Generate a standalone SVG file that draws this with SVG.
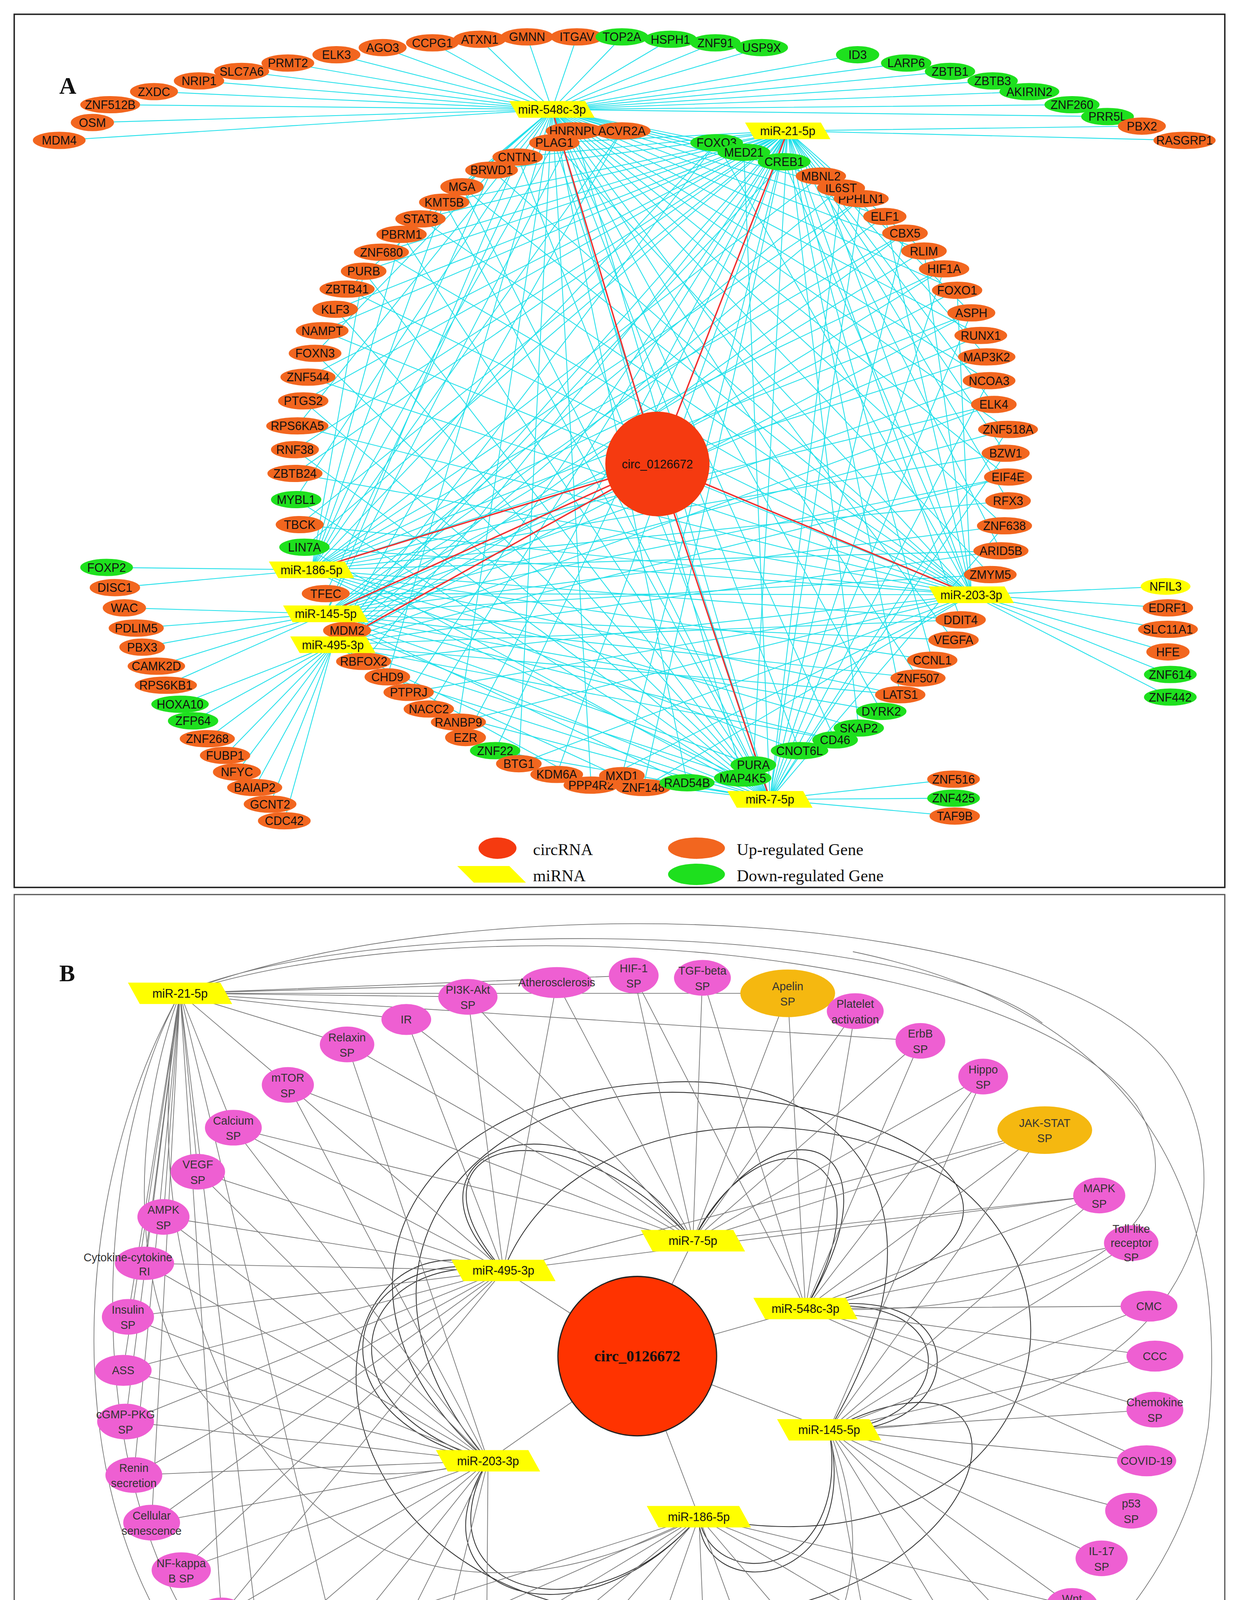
<svg xmlns="http://www.w3.org/2000/svg" xmlns:xlink="http://www.w3.org/1999/xlink" width="3173" height="4775" viewBox="0 0 3173 4775">
<style>
.u{fill:#F2661F;stroke:#F2661F;stroke-width:0.5}
.d{fill:#1EE01E;stroke:#1EE01E;stroke-width:0.5}
.y{fill:#FFFF00}
.p{fill:#EE5FD2}
.o{fill:#F5B810}
text{font-family:"Liberation Sans",Arial,sans-serif;font-size:10px;text-anchor:middle;dominant-baseline:central;fill:#111}
.t{font-size:9.5px;fill:#333}
.s{font-family:"Liberation Serif","Times New Roman",serif;font-size:14px;text-anchor:start}
.cy{fill:none;stroke:#22E0EA;stroke-width:0.7}
.rd{fill:none;stroke:#F03030;stroke-width:1.2}
.gr{fill:none;stroke:#777;stroke-width:0.6}
.bk{fill:none;stroke:#333;stroke-width:0.7}
</style>
<defs>
<polygon id="ma" points="-36,-7 28,-7 36,7 -28,7" fill="#FFFF00"/>
<polygon id="mb" points="-44,-9 34,-9 44,9 -34,9" fill="#FFFF00"/>
</defs>
<rect width="3173" height="4775" fill="#fff"/>
<g transform="scale(3.0335,3.0453)">
<rect x="12" y="12" width="1022" height="734" fill="none" stroke="#222" stroke-width="1.2"/>
<rect x="12" y="752" width="1022" height="804" fill="none" stroke="#555" stroke-width="1"/>
<text x="50" y="72" style="font-family:'Liberation Serif',serif;font-weight:bold;font-size:20px;text-anchor:start">A</text>
<text x="50" y="818" style="font-family:'Liberation Serif',serif;font-weight:bold;font-size:20px;text-anchor:start">B</text>

<g id="connectors-A">
<path class="cy" d="M466 92L50 118M466 92L78 103M466 92L93 88M466 92L130 77M466 92L168 68M466 92L204 60M466 92L243 53M466 92L284 46M466 92L323 40M466 92L365 36M466 92L405 33M466 92L445 31M466 92L487 31M466 92L525 31M466 92L566 33M466 92L604 36M466 92L643 40M466 92L724 46M466 92L765 53M466 92L802 60M466 92L838 68M466 92L869 77M466 92L905 88M466 92L935 98M466 92L485 110M466 92L525 110M466 92L605 120"/>
<path class="cy" d="M466 92L580 658M466 92L627 654M466 92L675 631M466 92L705 622M466 92L744 598M466 92L775 570M466 92L805 538M466 92L836 483M466 92L848 442M466 92L851 401M466 92L851 361M466 92L835 320M466 92L828 282M466 92L808 244M466 92L780 211M466 92L747 182M466 92L710 158M466 92L693 148M466 92L662 136M466 92L628 128M466 92L390 157M466 92L339 197M466 92L293 243M466 92L266 297M466 92L251 358M466 92L249 420M466 92L275 499M466 92L327 569M466 92L387 607M466 92L438 642M466 92L499 660"/>
<path class="cy" d="M665 110L964 106M665 110L1000 118M665 110L628 128M665 110L662 136M665 110L468 120M665 110L437 132M665 110L415 143M665 110L375 170M665 110L355 184M665 110L322 212M665 110L307 228M665 110L283 260M665 110L272 278M665 110L260 317M665 110L256 337M665 110L249 378M665 110L249 398M665 110L253 441M665 110L257 460M665 110L293 530M665 110L307 556M665 110L345 582M665 110L362 596M665 110L393 620M665 110L418 631M665 110L470 651M665 110L525 652M665 110L543 662M665 110L636 643M665 110L725 612M665 110L760 584M665 110L787 555M665 110L811 521M665 110L845 463M665 110L851 421M665 110L849 381M665 110L839 340M665 110L833 300M665 110L820 263M665 110L797 226"/>
<path class="cy" d="M263 479L90 477M263 479L97 494M263 479L693 148M263 479L727 167M263 479L764 196M263 479L797 226M263 479L820 263M263 479L833 300M263 479L839 340M263 479L849 381M263 479L851 421M263 479L845 463M263 479L811 521M263 479L787 555M263 479L760 584M263 479L725 612M263 479L675 631M263 479L627 654M263 479L605 120M263 479L525 110M263 479L468 120M263 479L415 143M263 479L375 170M263 479L339 197M263 479L307 228"/>
<path class="cy" d="M275 516L105 511M275 516L115 528M275 516L120 544M275 516L132 560M275 516L140 576M275 516L710 158M275 516L747 182M275 516L780 211M275 516L808 244M275 516L828 282M275 516L835 320M275 516L851 361M275 516L851 401M275 516L848 442M275 516L836 483M275 516L805 538M275 516L775 570M275 516L744 598M275 516L705 622M275 516L636 643M275 516L580 658M275 516L485 110M275 516L437 132"/>
<path class="cy" d="M281 542L152 592M281 542L163 606M281 542L175 621M281 542L190 635M281 542L200 649M281 542L215 662M281 542L228 676M281 542L240 690M281 542L662 136M281 542L727 167M281 542L764 196M281 542L797 226M281 542L820 263M281 542L839 340M281 542L851 401M281 542L845 463M281 542L811 521M281 542L760 584M281 542L705 622M281 542L627 654M281 542L543 662M281 542L499 660M281 542L605 120M281 542L525 110"/>
<path class="cy" d="M820 500L984 493M820 500L986 511M820 500L986 529M820 500L986 548M820 500L988 567M820 500L988 586M820 500L468 120M820 500L415 143M820 500L390 157M820 500L355 184M820 500L322 212M820 500L293 243M820 500L272 278M820 500L260 317M820 500L251 358M820 500L249 398M820 500L253 441M820 500L257 460M820 500L275 499M820 500L307 556M820 500L345 582M820 500L387 607M820 500L438 642M820 500L499 660M820 500L543 662M820 500L693 148M820 500L747 182M820 500L780 211M820 500L808 244M820 500L605 120M820 500L662 136"/>
<path class="cy" d="M650 672L805 655M650 672L805 671M650 672L806 686M650 672L468 120M650 672L437 132M650 672L390 157M650 672L375 170M650 672L339 197M650 672L307 228M650 672L283 260M650 672L266 297M650 672L256 337M650 672L249 378M650 672L250 420M650 672L257 460M650 672L293 530M650 672L327 569M650 672L362 596M650 672L418 631M650 672L470 651M650 672L525 652M650 672L710 158M650 672L727 167M650 672L764 196M650 672L797 226M650 672L820 263M650 672L835 320M650 672L851 361M650 672L849 381M650 672L848 442M650 672L485 110M650 672L628 128"/>
<path class="rd" d="M555 390L466 92M555 390L665 110M555 390L263 479M555 390L275 516M555 390L281 542M555 390L820 500M555 390L650 672"/>
</g>

<g id="nodes-A">
<g id="a-MDM4"><ellipse class="u" cx="50" cy="118" rx="22" ry="7"/><text x="50" y="118">MDM4</text></g>
<g id="a-OSM"><ellipse class="u" cx="78" cy="103" rx="18" ry="7"/><text x="78" y="103">OSM</text></g>
<g id="a-ZNF512B"><ellipse class="u" cx="93" cy="88" rx="25" ry="7"/><text x="93" y="88">ZNF512B</text></g>
<g id="a-ZXDC"><ellipse class="u" cx="130" cy="77" rx="20" ry="7"/><text x="130" y="77">ZXDC</text></g>
<g id="a-NRIP1"><ellipse class="u" cx="168" cy="68" rx="21" ry="7"/><text x="168" y="68">NRIP1</text></g>
<g id="a-SLC7A6"><ellipse class="u" cx="204" cy="60" rx="23" ry="7"/><text x="204" y="60">SLC7A6</text></g>
<g id="a-PRMT2"><ellipse class="u" cx="243" cy="53" rx="22" ry="7"/><text x="243" y="53">PRMT2</text></g>
<g id="a-ELK3"><ellipse class="u" cx="284" cy="46" rx="20" ry="7"/><text x="284" y="46">ELK3</text></g>
<g id="a-AGO3"><ellipse class="u" cx="323" cy="40" rx="20" ry="7"/><text x="323" y="40">AGO3</text></g>
<g id="a-CCPG1"><ellipse class="u" cx="365" cy="36" rx="22" ry="7"/><text x="365" y="36">CCPG1</text></g>
<g id="a-ATXN1"><ellipse class="u" cx="405" cy="33" rx="22" ry="7"/><text x="405" y="33">ATXN1</text></g>
<g id="a-GMNN"><ellipse class="u" cx="445" cy="31" rx="22" ry="7"/><text x="445" y="31">GMNN</text></g>
<g id="a-ITGAV"><ellipse class="u" cx="487" cy="31" rx="22" ry="7"/><text x="487" y="31">ITGAV</text></g>
<g id="a-TOP2A"><ellipse class="d" cx="525" cy="31" rx="22" ry="7"/><text x="525" y="31">TOP2A</text></g>
<g id="a-HSPH1"><ellipse class="d" cx="566" cy="33" rx="22" ry="7"/><text x="566" y="33">HSPH1</text></g>
<g id="a-ZNF91"><ellipse class="d" cx="604" cy="36" rx="21" ry="7"/><text x="604" y="36">ZNF91</text></g>
<g id="a-USP9X"><ellipse class="d" cx="643" cy="40" rx="22" ry="7"/><text x="643" y="40">USP9X</text></g>
<g id="a-ID3"><ellipse class="d" cx="724" cy="46" rx="18" ry="7"/><text x="724" y="46">ID3</text></g>
<g id="a-LARP6"><ellipse class="d" cx="765" cy="53" rx="21" ry="7"/><text x="765" y="53">LARP6</text></g>
<g id="a-ZBTB1"><ellipse class="d" cx="802" cy="60" rx="21" ry="7"/><text x="802" y="60">ZBTB1</text></g>
<g id="a-ZBTB3"><ellipse class="d" cx="838" cy="68" rx="21" ry="7"/><text x="838" y="68">ZBTB3</text></g>
<g id="a-AKIRIN2"><ellipse class="d" cx="869" cy="77" rx="25" ry="7"/><text x="869" y="77">AKIRIN2</text></g>
<g id="a-ZNF260"><ellipse class="d" cx="905" cy="88" rx="23" ry="7"/><text x="905" y="88">ZNF260</text></g>
<g id="a-PRR5L"><ellipse class="d" cx="935" cy="98" rx="22" ry="7"/><text x="935" y="98">PRR5L</text></g>
<g id="a-PBX2"><ellipse class="u" cx="964" cy="106" rx="20" ry="7"/><text x="964" y="106">PBX2</text></g>
<g id="a-RASGRP1"><ellipse class="u" cx="1000" cy="118" rx="26" ry="7"/><text x="1000" y="118">RASGRP1</text></g>
<g id="a-HNRNPU"><ellipse class="u" cx="485" cy="110" rx="24" ry="7"/><text x="485" y="110">HNRNPU</text></g>
<g id="a-ACVR2A"><ellipse class="u" cx="525" cy="110" rx="24" ry="7"/><text x="525" y="110">ACVR2A</text></g>
<g id="a-FOXO3"><ellipse class="d" cx="605" cy="120" rx="22" ry="7"/><text x="605" y="120">FOXO3</text></g>
<g id="a-MED21"><ellipse class="d" cx="628" cy="128" rx="22" ry="7"/><text x="628" y="128">MED21</text></g>
<g id="a-CREB1"><ellipse class="d" cx="662" cy="136" rx="22" ry="7"/><text x="662" y="136">CREB1</text></g>
<g id="a-PLAG1"><ellipse class="u" cx="468" cy="120" rx="21" ry="7"/><text x="468" y="120">PLAG1</text></g>
<g id="a-CNTN1"><ellipse class="u" cx="437" cy="132" rx="21" ry="7"/><text x="437" y="132">CNTN1</text></g>
<g id="a-BRWD1"><ellipse class="u" cx="415" cy="143" rx="22" ry="7"/><text x="415" y="143">BRWD1</text></g>
<g id="a-MGA"><ellipse class="u" cx="390" cy="157" rx="18" ry="7"/><text x="390" y="157">MGA</text></g>
<g id="a-KMT5B"><ellipse class="u" cx="375" cy="170" rx="21" ry="7"/><text x="375" y="170">KMT5B</text></g>
<g id="a-STAT3"><ellipse class="u" cx="355" cy="184" rx="21" ry="7"/><text x="355" y="184">STAT3</text></g>
<g id="a-PBRM1"><ellipse class="u" cx="339" cy="197" rx="21" ry="7"/><text x="339" y="197">PBRM1</text></g>
<g id="a-ZNF680"><ellipse class="u" cx="322" cy="212" rx="23" ry="7"/><text x="322" y="212">ZNF680</text></g>
<g id="a-PURB"><ellipse class="u" cx="307" cy="228" rx="19" ry="7"/><text x="307" y="228">PURB</text></g>
<g id="a-ZBTB41"><ellipse class="u" cx="293" cy="243" rx="23" ry="7"/><text x="293" y="243">ZBTB41</text></g>
<g id="a-KLF3"><ellipse class="u" cx="283" cy="260" rx="19" ry="7"/><text x="283" y="260">KLF3</text></g>
<g id="a-NAMPT"><ellipse class="u" cx="272" cy="278" rx="22" ry="7"/><text x="272" y="278">NAMPT</text></g>
<g id="a-FOXN3"><ellipse class="u" cx="266" cy="297" rx="22" ry="7"/><text x="266" y="297">FOXN3</text></g>
<g id="a-ZNF544"><ellipse class="u" cx="260" cy="317" rx="23" ry="7"/><text x="260" y="317">ZNF544</text></g>
<g id="a-PTGS2"><ellipse class="u" cx="256" cy="337" rx="21" ry="7"/><text x="256" y="337">PTGS2</text></g>
<g id="a-RPS6KA5"><ellipse class="u" cx="251" cy="358" rx="26" ry="7"/><text x="251" y="358">RPS6KA5</text></g>
<g id="a-RNF38"><ellipse class="u" cx="249" cy="378" rx="20" ry="7"/><text x="249" y="378">RNF38</text></g>
<g id="a-ZBTB24"><ellipse class="u" cx="249" cy="398" rx="23" ry="7"/><text x="249" y="398">ZBTB24</text></g>
<g id="a-MYBL1"><ellipse class="d" cx="250" cy="420" rx="21" ry="7"/><text x="250" y="420">MYBL1</text></g>
<g id="a-TBCK"><ellipse class="u" cx="253" cy="441" rx="20" ry="7"/><text x="253" y="441">TBCK</text></g>
<g id="a-LIN7A"><ellipse class="d" cx="257" cy="460" rx="21" ry="7"/><text x="257" y="460">LIN7A</text></g>
<g id="a-TFEC"><ellipse class="u" cx="275" cy="499" rx="20" ry="7"/><text x="275" y="499">TFEC</text></g>
<g id="a-MDM2"><ellipse class="u" cx="293" cy="530" rx="20" ry="7"/><text x="293" y="530">MDM2</text></g>
<g id="a-RBFOX2"><ellipse class="u" cx="307" cy="556" rx="23" ry="7"/><text x="307" y="556">RBFOX2</text></g>
<g id="a-CHD9"><ellipse class="u" cx="327" cy="569" rx="19" ry="7"/><text x="327" y="569">CHD9</text></g>
<g id="a-PTPRJ"><ellipse class="u" cx="345" cy="582" rx="21" ry="7"/><text x="345" y="582">PTPRJ</text></g>
<g id="a-NACC2"><ellipse class="u" cx="362" cy="596" rx="21" ry="7"/><text x="362" y="596">NACC2</text></g>
<g id="a-RANBP9"><ellipse class="u" cx="387" cy="607" rx="23" ry="7"/><text x="387" y="607">RANBP9</text></g>
<g id="a-EZR"><ellipse class="u" cx="393" cy="620" rx="17" ry="7"/><text x="393" y="620">EZR</text></g>
<g id="a-ZNF22"><ellipse class="d" cx="418" cy="631" rx="21" ry="7"/><text x="418" y="631">ZNF22</text></g>
<g id="a-BTG1"><ellipse class="u" cx="438" cy="642" rx="19" ry="7"/><text x="438" y="642">BTG1</text></g>
<g id="a-KDM6A"><ellipse class="u" cx="470" cy="651" rx="22" ry="7"/><text x="470" y="651">KDM6A</text></g>
<g id="a-PPP4R2"><ellipse class="u" cx="499" cy="660" rx="23" ry="7"/><text x="499" y="660">PPP4R2</text></g>
<g id="a-MXD1"><ellipse class="u" cx="525" cy="652" rx="19" ry="7"/><text x="525" y="652">MXD1</text></g>
<g id="a-ZNF148"><ellipse class="u" cx="543" cy="662" rx="23" ry="7"/><text x="543" y="662">ZNF148</text></g>
<g id="a-RAD54B"><ellipse class="d" cx="580" cy="658" rx="23" ry="7"/><text x="580" y="658">RAD54B</text></g>
<g id="a-MAP4K5"><ellipse class="d" cx="627" cy="654" rx="24" ry="7"/><text x="627" y="654">MAP4K5</text></g>
<g id="a-PURA"><ellipse class="d" cx="636" cy="643" rx="19" ry="7"/><text x="636" y="643">PURA</text></g>
<g id="a-CNOT6L"><ellipse class="d" cx="675" cy="631" rx="24" ry="7"/><text x="675" y="631">CNOT6L</text></g>
<g id="a-CD46"><ellipse class="d" cx="705" cy="622" rx="19" ry="7"/><text x="705" y="622">CD46</text></g>
<g id="a-SKAP2"><ellipse class="d" cx="725" cy="612" rx="21" ry="7"/><text x="725" y="612">SKAP2</text></g>
<g id="a-DYRK2"><ellipse class="d" cx="744" cy="598" rx="21" ry="7"/><text x="744" y="598">DYRK2</text></g>
<g id="a-LATS1"><ellipse class="u" cx="760" cy="584" rx="21" ry="7"/><text x="760" y="584">LATS1</text></g>
<g id="a-ZNF507"><ellipse class="u" cx="775" cy="570" rx="23" ry="7"/><text x="775" y="570">ZNF507</text></g>
<g id="a-CCNL1"><ellipse class="u" cx="787" cy="555" rx="21" ry="7"/><text x="787" y="555">CCNL1</text></g>
<g id="a-VEGFA"><ellipse class="u" cx="805" cy="538" rx="21" ry="7"/><text x="805" y="538">VEGFA</text></g>
<g id="a-DDIT4"><ellipse class="u" cx="811" cy="521" rx="21" ry="7"/><text x="811" y="521">DDIT4</text></g>
<g id="a-ZMYM5"><ellipse class="u" cx="836" cy="483" rx="22" ry="7"/><text x="836" y="483">ZMYM5</text></g>
<g id="a-ARID5B"><ellipse class="u" cx="845" cy="463" rx="23" ry="7"/><text x="845" y="463">ARID5B</text></g>
<g id="a-ZNF638"><ellipse class="u" cx="848" cy="442" rx="23" ry="7"/><text x="848" y="442">ZNF638</text></g>
<g id="a-RFX3"><ellipse class="u" cx="851" cy="421" rx="19" ry="7"/><text x="851" y="421">RFX3</text></g>
<g id="a-EIF4E"><ellipse class="u" cx="851" cy="401" rx="20" ry="7"/><text x="851" y="401">EIF4E</text></g>
<g id="a-BZW1"><ellipse class="u" cx="849" cy="381" rx="20" ry="7"/><text x="849" y="381">BZW1</text></g>
<g id="a-ZNF518A"><ellipse class="u" cx="851" cy="361" rx="25" ry="7"/><text x="851" y="361">ZNF518A</text></g>
<g id="a-ELK4"><ellipse class="u" cx="839" cy="340" rx="19" ry="7"/><text x="839" y="340">ELK4</text></g>
<g id="a-NCOA3"><ellipse class="u" cx="835" cy="320" rx="22" ry="7"/><text x="835" y="320">NCOA3</text></g>
<g id="a-MAP3K2"><ellipse class="u" cx="833" cy="300" rx="24" ry="7"/><text x="833" y="300">MAP3K2</text></g>
<g id="a-RUNX1"><ellipse class="u" cx="828" cy="282" rx="22" ry="7"/><text x="828" y="282">RUNX1</text></g>
<g id="a-ASPH"><ellipse class="u" cx="820" cy="263" rx="20" ry="7"/><text x="820" y="263">ASPH</text></g>
<g id="a-FOXO1"><ellipse class="u" cx="808" cy="244" rx="21" ry="7"/><text x="808" y="244">FOXO1</text></g>
<g id="a-HIF1A"><ellipse class="u" cx="797" cy="226" rx="21" ry="7"/><text x="797" y="226">HIF1A</text></g>
<g id="a-RLIM"><ellipse class="u" cx="780" cy="211" rx="19" ry="7"/><text x="780" y="211">RLIM</text></g>
<g id="a-CBX5"><ellipse class="u" cx="764" cy="196" rx="19" ry="7"/><text x="764" y="196">CBX5</text></g>
<g id="a-ELF1"><ellipse class="u" cx="747" cy="182" rx="18" ry="7"/><text x="747" y="182">ELF1</text></g>
<g id="a-PPHLN1"><ellipse class="u" cx="727" cy="167" rx="23" ry="7"/><text x="727" y="167">PPHLN1</text></g>
<g id="a-IL6ST"><ellipse class="u" cx="710" cy="158" rx="20" ry="7"/><text x="710" y="158">IL6ST</text></g>
<g id="a-MBNL2"><ellipse class="u" cx="693" cy="148" rx="21" ry="7"/><text x="693" y="148">MBNL2</text></g>
<g id="a-FOXP2"><ellipse class="d" cx="90" cy="477" rx="22" ry="7"/><text x="90" y="477">FOXP2</text></g>
<g id="a-DISC1"><ellipse class="u" cx="97" cy="494" rx="21" ry="7"/><text x="97" y="494">DISC1</text></g>
<g id="a-WAC"><ellipse class="u" cx="105" cy="511" rx="18" ry="7"/><text x="105" y="511">WAC</text></g>
<g id="a-PDLIM5"><ellipse class="u" cx="115" cy="528" rx="23" ry="7"/><text x="115" y="528">PDLIM5</text></g>
<g id="a-PBX3"><ellipse class="u" cx="120" cy="544" rx="19" ry="7"/><text x="120" y="544">PBX3</text></g>
<g id="a-CAMK2D"><ellipse class="u" cx="132" cy="560" rx="24" ry="7"/><text x="132" y="560">CAMK2D</text></g>
<g id="a-RPS6KB1"><ellipse class="u" cx="140" cy="576" rx="26" ry="7"/><text x="140" y="576">RPS6KB1</text></g>
<g id="a-HOXA10"><ellipse class="d" cx="152" cy="592" rx="24" ry="7"/><text x="152" y="592">HOXA10</text></g>
<g id="a-ZFP64"><ellipse class="d" cx="163" cy="606" rx="21" ry="7"/><text x="163" y="606">ZFP64</text></g>
<g id="a-ZNF268"><ellipse class="u" cx="175" cy="621" rx="23" ry="7"/><text x="175" y="621">ZNF268</text></g>
<g id="a-FUBP1"><ellipse class="u" cx="190" cy="635" rx="21" ry="7"/><text x="190" y="635">FUBP1</text></g>
<g id="a-NFYC"><ellipse class="u" cx="200" cy="649" rx="20" ry="7"/><text x="200" y="649">NFYC</text></g>
<g id="a-BAIAP2"><ellipse class="u" cx="215" cy="662" rx="23" ry="7"/><text x="215" y="662">BAIAP2</text></g>
<g id="a-GCNT2"><ellipse class="u" cx="228" cy="676" rx="22" ry="7"/><text x="228" y="676">GCNT2</text></g>
<g id="a-CDC42"><ellipse class="u" cx="240" cy="690" rx="22" ry="7"/><text x="240" y="690">CDC42</text></g>
<g id="a-NFIL3"><ellipse class="y" cx="984" cy="493" rx="21" ry="7"/><text x="984" y="493">NFIL3</text></g>
<g id="a-EDRF1"><ellipse class="u" cx="986" cy="511" rx="21" ry="7"/><text x="986" y="511">EDRF1</text></g>
<g id="a-SLC11A1"><ellipse class="u" cx="986" cy="529" rx="25" ry="7"/><text x="986" y="529">SLC11A1</text></g>
<g id="a-HFE"><ellipse class="u" cx="986" cy="548" rx="18" ry="7"/><text x="986" y="548">HFE</text></g>
<g id="a-ZNF614"><ellipse class="d" cx="988" cy="567" rx="22" ry="7"/><text x="988" y="567">ZNF614</text></g>
<g id="a-ZNF442"><ellipse class="d" cx="988" cy="586" rx="22" ry="7"/><text x="988" y="586">ZNF442</text></g>
<g id="a-ZNF516"><ellipse class="u" cx="805" cy="655" rx="22" ry="7"/><text x="805" y="655">ZNF516</text></g>
<g id="a-ZNF425"><ellipse class="d" cx="805" cy="671" rx="22" ry="7"/><text x="805" y="671">ZNF425</text></g>
<g id="a-TAF9B"><ellipse class="u" cx="806" cy="686" rx="21" ry="7"/><text x="806" y="686">TAF9B</text></g>
<g id="a-m548"><use xlink:href="#ma" x="466" y="92"/><text x="466" y="92">miR-548c-3p</text></g>
<g id="a-m21"><use xlink:href="#ma" x="665" y="110"/><text x="665" y="110">miR-21-5p</text></g>
<g id="a-m186"><use xlink:href="#ma" x="263" y="479"/><text x="263" y="479">miR-186-5p</text></g>
<g id="a-m145"><use xlink:href="#ma" x="275" y="516"/><text x="275" y="516">miR-145-5p</text></g>
<g id="a-m495"><use xlink:href="#ma" x="281" y="542"/><text x="281" y="542">miR-495-3p</text></g>
<g id="a-m203"><use xlink:href="#ma" x="820" y="500"/><text x="820" y="500">miR-203-3p</text></g>
<g id="a-m7"><use xlink:href="#ma" x="650" y="672"/><text x="650" y="672">miR-7-5p</text></g>
<g id="a-circ"><circle cx="555" cy="390" r="44" fill="#F53A10"/><text x="555" y="390">circ_0126672</text></g>
</g>

<g id="legend-A">
<ellipse cx="420" cy="713" rx="16" ry="9" fill="#F53A10"/><text class="s" x="450" y="714">circRNA</text>
<polygon points="386,728 430,728 444,742 400,742" fill="#FFFF00"/><text class="s" x="450" y="736">miRNA</text>
<ellipse cx="588" cy="713" rx="24" ry="9" fill="#F2661F"/><text class="s" x="622" y="714">Up-regulated Gene</text>
<ellipse cx="588" cy="735" rx="24" ry="9" fill="#1EE01E"/><text class="s" x="622" y="736">Down-regulated Gene</text>
</g>

<g id="connectors-B">
<path class="bk" d="M425 1068C330 960 470 920 585 1043M425 1068C320 970 480 900 585 1043M585 1043C640 930 760 960 680 1100M585 1043C650 920 770 950 680 1100M680 1100C820 1080 810 1200 700 1202M680 1100C830 1070 820 1210 700 1202M700 1202C720 1330 600 1340 590 1275M700 1202C730 1340 590 1350 590 1275M590 1275C500 1380 350 1340 412 1228M590 1275C490 1390 340 1340 412 1228M412 1228C260 1180 300 1050 425 1068M412 1228C250 1190 290 1040 425 1068"/>
<path class="bk" d="M425 1068C250 1000 230 1350 560 1360C850 1370 900 1100 700 1202M412 1228C260 1050 420 900 600 920C830 940 900 1050 680 1100M590 1275C850 1330 950 1100 800 990C690 920 480 930 425 1068M700 1202C820 1000 700 900 560 910C330 920 260 1100 412 1228"/>
<path class="gr" d="M152 835C400 740 900 760 990 900C1060 1010 1000 1200 700 1202M152 835C380 760 860 790 960 930C1020 1030 900 1110 680 1100M152 835C300 770 760 770 880 860M152 835C60 1000 60 1400 300 1480C500 1540 800 1460 700 1202M152 835C90 1000 100 1300 412 1228M152 835C100 1100 250 1450 590 1275M152 835C30 1050 40 1450 350 1520C650 1580 980 1460 1020 1200C1040 1000 960 850 720 800"/>
<path class="gr" d="M152 835L293 878M152 835L243 912M152 835L343 857M152 835L395 838M152 835L197 948M152 835L167 985M152 835L138 1023M152 835L122 1062M152 835L108 1107M152 835L104 1152M152 835L106 1195M152 835L113 1240M152 835L470 826M152 835L535 820M152 835L665 835M152 835L777 875M152 835L128 1280M152 835L187 1358M152 835L220 1392M152 835L300 1450"/>
<path class="gr" d="M585 1043L395 838M585 1043L470 826M585 1043L535 820M585 1043L593 822M585 1043L665 835M585 1043L722 850M585 1043L777 875M585 1043L830 905M585 1043L882 950M585 1043L243 912M585 1043L343 857M585 1043L293 878M585 1043L197 948M585 1043L928 1005"/>
<path class="gr" d="M425 1068L197 948M425 1068L167 985M425 1068L138 1023M425 1068L122 1062M425 1068L108 1107M425 1068L104 1152M425 1068L106 1195M425 1068L113 1240M425 1068L128 1280M425 1068L153 1320M425 1068L187 1358M425 1068L395 838M425 1068L343 857M425 1068L882 950M425 1068L928 1005M425 1068L243 912M425 1068L470 826"/>
<path class="gr" d="M680 1100L830 905M680 1100L882 950M680 1100L928 1005M680 1100L955 1045M680 1100L970 1098M680 1100L975 1140M680 1100L975 1185M680 1100L777 875M680 1100L665 835M680 1100L722 850M680 1100L593 822M680 1100L535 820M680 1100L968 1228"/>
<path class="gr" d="M700 1202L970 1098M700 1202L975 1140M700 1202L975 1185M700 1202L968 1228M700 1202L955 1270M700 1202L930 1310M700 1202L905 1350M700 1202L872 1385M700 1202L832 1418M700 1202L748 1460M700 1202L928 1005M700 1202L955 1045M700 1202L882 950M700 1202L830 905"/>
<path class="gr" d="M412 1228L104 1152M412 1228L106 1195M412 1228L113 1240M412 1228L128 1280M412 1228L153 1320M412 1228L187 1358M412 1228L220 1392M412 1228L256 1422M412 1228L300 1450M412 1228L352 1470M412 1228L410 1486M412 1228L122 1062M412 1228L108 1107M412 1228L138 1023M412 1228L167 985M412 1228L197 948M412 1228L243 912M412 1228L293 878"/>
<path class="gr" d="M590 1275L510 1505M590 1275L600 1510M590 1275L672 1498M590 1275L748 1460M590 1275L832 1418M590 1275L410 1486M590 1275L352 1470M590 1275L300 1450M590 1275L872 1385M590 1275L905 1350M590 1275L256 1422M590 1275L220 1392"/>
<path class="gr" d="M538 1140L585 1043M538 1140L425 1068M538 1140L680 1100M538 1140L700 1202M538 1140L412 1228M538 1140L590 1275"/>
</g>

<g id="nodes-B">
<g id="b-PI3K"><ellipse class="p" cx="395" cy="838" rx="25" ry="15"/><text class="t" x="395" y="832">PI3K-Akt</text><text class="t" x="395" y="845">SP</text></g>
<g id="b-Ath"><ellipse class="p" cx="470" cy="826" rx="30" ry="13"/><text class="t" x="470" y="826">Atherosclerosis</text></g>
<g id="b-HIF"><ellipse class="p" cx="535" cy="820" rx="21" ry="15"/><text class="t" x="535" y="814">HIF-1</text><text class="t" x="535" y="827">SP</text></g>
<g id="b-TGF"><ellipse class="p" cx="593" cy="822" rx="24" ry="15"/><text class="t" x="593" y="816">TGF-beta</text><text class="t" x="593" y="829">SP</text></g>
<g id="b-Apelin"><ellipse class="o" cx="665" cy="835" rx="40" ry="20"/><text class="t" x="665" y="829">Apelin</text><text class="t" x="665" y="842">SP</text></g>
<g id="b-Plat"><ellipse class="p" cx="722" cy="850" rx="24" ry="15"/><text class="t" x="722" y="844">Platelet</text><text class="t" x="722" y="857">activation</text></g>
<g id="b-IR"><ellipse class="p" cx="343" cy="857" rx="21" ry="13"/><text class="t" x="343" y="857">IR</text></g>
<g id="b-Relaxin"><ellipse class="p" cx="293" cy="878" rx="23" ry="15"/><text class="t" x="293" y="872">Relaxin</text><text class="t" x="293" y="885">SP</text></g>
<g id="b-ErbB"><ellipse class="p" cx="777" cy="875" rx="21" ry="15"/><text class="t" x="777" y="869">ErbB</text><text class="t" x="777" y="882">SP</text></g>
<g id="b-Hippo"><ellipse class="p" cx="830" cy="905" rx="21" ry="15"/><text class="t" x="830" y="899">Hippo</text><text class="t" x="830" y="912">SP</text></g>
<g id="b-mTOR"><ellipse class="p" cx="243" cy="912" rx="22" ry="15"/><text class="t" x="243" y="906">mTOR</text><text class="t" x="243" y="919">SP</text></g>
<g id="b-JAK"><ellipse class="o" cx="882" cy="950" rx="40" ry="20"/><text class="t" x="882" y="944">JAK-STAT</text><text class="t" x="882" y="957">SP</text></g>
<g id="b-Calcium"><ellipse class="p" cx="197" cy="948" rx="24" ry="15"/><text class="t" x="197" y="942">Calcium</text><text class="t" x="197" y="955">SP</text></g>
<g id="b-VEGF"><ellipse class="p" cx="167" cy="985" rx="23" ry="15"/><text class="t" x="167" y="979">VEGF</text><text class="t" x="167" y="992">SP</text></g>
<g id="b-MAPK"><ellipse class="p" cx="928" cy="1005" rx="22" ry="15"/><text class="t" x="928" y="999">MAPK</text><text class="t" x="928" y="1012">SP</text></g>
<g id="b-AMPK"><ellipse class="p" cx="138" cy="1023" rx="22" ry="15"/><text class="t" x="138" y="1017">AMPK</text><text class="t" x="138" y="1030">SP</text></g>
<g id="b-Toll"><ellipse class="p" cx="955" cy="1045" rx="23" ry="15"/><text class="t" x="955" y="1033">Toll-like</text><text class="t" x="955" y="1045">receptor</text><text class="t" x="955" y="1057">SP</text></g>
<g id="b-Cyto"><ellipse class="p" cx="122" cy="1062" rx="25" ry="14"/><text class="t" x="108" y="1057">Cytokine-cytokine</text><text class="t" x="122" y="1069">RI</text></g>
<g id="b-Insulin"><ellipse class="p" cx="108" cy="1107" rx="22" ry="15"/><text class="t" x="108" y="1101">Insulin</text><text class="t" x="108" y="1114">SP</text></g>
<g id="b-CMC"><ellipse class="p" cx="970" cy="1098" rx="24" ry="13"/><text class="t" x="970" y="1098">CMC</text></g>
<g id="b-ASS"><ellipse class="p" cx="104" cy="1152" rx="24" ry="13"/><text class="t" x="104" y="1152">ASS</text></g>
<g id="b-CCC"><ellipse class="p" cx="975" cy="1140" rx="24" ry="13"/><text class="t" x="975" y="1140">CCC</text></g>
<g id="b-cGMP"><ellipse class="p" cx="106" cy="1195" rx="24" ry="15"/><text class="t" x="106" y="1189">cGMP-PKG</text><text class="t" x="106" y="1202">SP</text></g>
<g id="b-Chemo"><ellipse class="p" cx="975" cy="1185" rx="24" ry="15"/><text class="t" x="975" y="1179">Chemokine</text><text class="t" x="975" y="1192">SP</text></g>
<g id="b-Renin"><ellipse class="p" cx="113" cy="1240" rx="24" ry="15"/><text class="t" x="113" y="1234">Renin</text><text class="t" x="113" y="1247">secretion</text></g>
<g id="b-COVID"><ellipse class="p" cx="968" cy="1228" rx="25" ry="13"/><text class="t" x="968" y="1228">COVID-19</text></g>
<g id="b-Cell"><ellipse class="p" cx="128" cy="1280" rx="24" ry="15"/><text class="t" x="128" y="1274">Cellular</text><text class="t" x="128" y="1287">senescence</text></g>
<g id="b-p53"><ellipse class="p" cx="955" cy="1270" rx="22" ry="15"/><text class="t" x="955" y="1264">p53</text><text class="t" x="955" y="1277">SP</text></g>
<g id="b-NFkB"><ellipse class="p" cx="153" cy="1320" rx="25" ry="15"/><text class="t" x="153" y="1314">NF-kappa</text><text class="t" x="153" y="1327">B SP</text></g>
<g id="b-IL17"><ellipse class="p" cx="930" cy="1310" rx="22" ry="15"/><text class="t" x="930" y="1304">IL-17</text><text class="t" x="930" y="1317">SP</text></g>
<g id="b-cAMP"><ellipse class="p" cx="187" cy="1358" rx="22" ry="15"/><text class="t" x="187" y="1352">cAMP</text><text class="t" x="187" y="1365">SP</text></g>
<g id="b-Wnt"><ellipse class="p" cx="905" cy="1350" rx="22" ry="15"/><text class="t" x="905" y="1344">Wnt</text><text class="t" x="905" y="1357">SP</text></g>
<g id="b-VRWR"><ellipse class="p" cx="220" cy="1392" rx="24" ry="13"/><text class="t" x="220" y="1392">VRWR</text></g>
<g id="b-VSMC"><ellipse class="p" cx="872" cy="1385" rx="24" ry="13"/><text class="t" x="872" y="1385">VSMC</text></g>
<g id="b-Circ"><ellipse class="p" cx="256" cy="1422" rx="24" ry="15"/><text class="t" x="256" y="1416">Circadian</text><text class="t" x="256" y="1429">rhythm</text></g>
<g id="b-AScard"><ellipse class="p" cx="832" cy="1418" rx="28" ry="15"/><text class="t" x="832" y="1412">AS in</text><text class="t" x="832" y="1425">cardiomyocytes</text></g>
<g id="b-FoxO"><ellipse class="p" cx="300" cy="1450" rx="22" ry="15"/><text class="t" x="300" y="1444">FoxO</text><text class="t" x="300" y="1457">SP</text></g>
<g id="b-TNF"><ellipse class="p" cx="352" cy="1470" rx="22" ry="15"/><text class="t" x="352" y="1464">TNF</text><text class="t" x="352" y="1477">SP</text></g>
<g id="b-InsSec"><ellipse class="p" cx="410" cy="1486" rx="24" ry="15"/><text class="t" x="410" y="1480">Insulin</text><text class="t" x="410" y="1493">secretion</text></g>
<g id="b-Adipo"><ellipse class="p" cx="510" cy="1505" rx="28" ry="15"/><text class="t" x="510" y="1499">Adipocytokine</text><text class="t" x="510" y="1512">SP</text></g>
<g id="b-PPAR"><ellipse class="p" cx="600" cy="1510" rx="23" ry="15"/><text class="t" x="600" y="1504">PPAR</text><text class="t" x="600" y="1517">SP</text></g>
<g id="b-ErbB2"><ellipse class="p" cx="672" cy="1498" rx="23" ry="15"/><text class="t" x="672" y="1492">Erb B</text><text class="t" x="672" y="1505">SP</text></g>
<g id="b-Estrogen"><ellipse class="p" cx="748" cy="1460" rx="25" ry="15"/><text class="t" x="748" y="1454">Estrogen</text><text class="t" x="748" y="1467">SP</text></g>
<g id="b-m21"><use xlink:href="#mb" x="152" y="835"/><text x="152" y="835">miR-21-5p</text></g>
<g id="b-m7"><use xlink:href="#mb" x="585" y="1043"/><text x="585" y="1043">miR-7-5p</text></g>
<g id="b-m495"><use xlink:href="#mb" x="425" y="1068"/><text x="425" y="1068">miR-495-3p</text></g>
<g id="b-m548"><use xlink:href="#mb" x="680" y="1100"/><text x="680" y="1100">miR-548c-3p</text></g>
<g id="b-m145"><use xlink:href="#mb" x="700" y="1202"/><text x="700" y="1202">miR-145-5p</text></g>
<g id="b-m203"><use xlink:href="#mb" x="412" y="1228"/><text x="412" y="1228">miR-203-3p</text></g>
<g id="b-m186"><use xlink:href="#mb" x="590" y="1275"/><text x="590" y="1275">miR-186-5p</text></g>
<g id="b-circ"><circle cx="538" cy="1140" r="67" fill="#FF3300" stroke="#222" stroke-width="1"/><text x="538" y="1140" style="font-family:'Liberation Serif',serif;font-weight:bold;font-size:13px">circ_0126672</text></g>
</g>
</g>
</svg>
